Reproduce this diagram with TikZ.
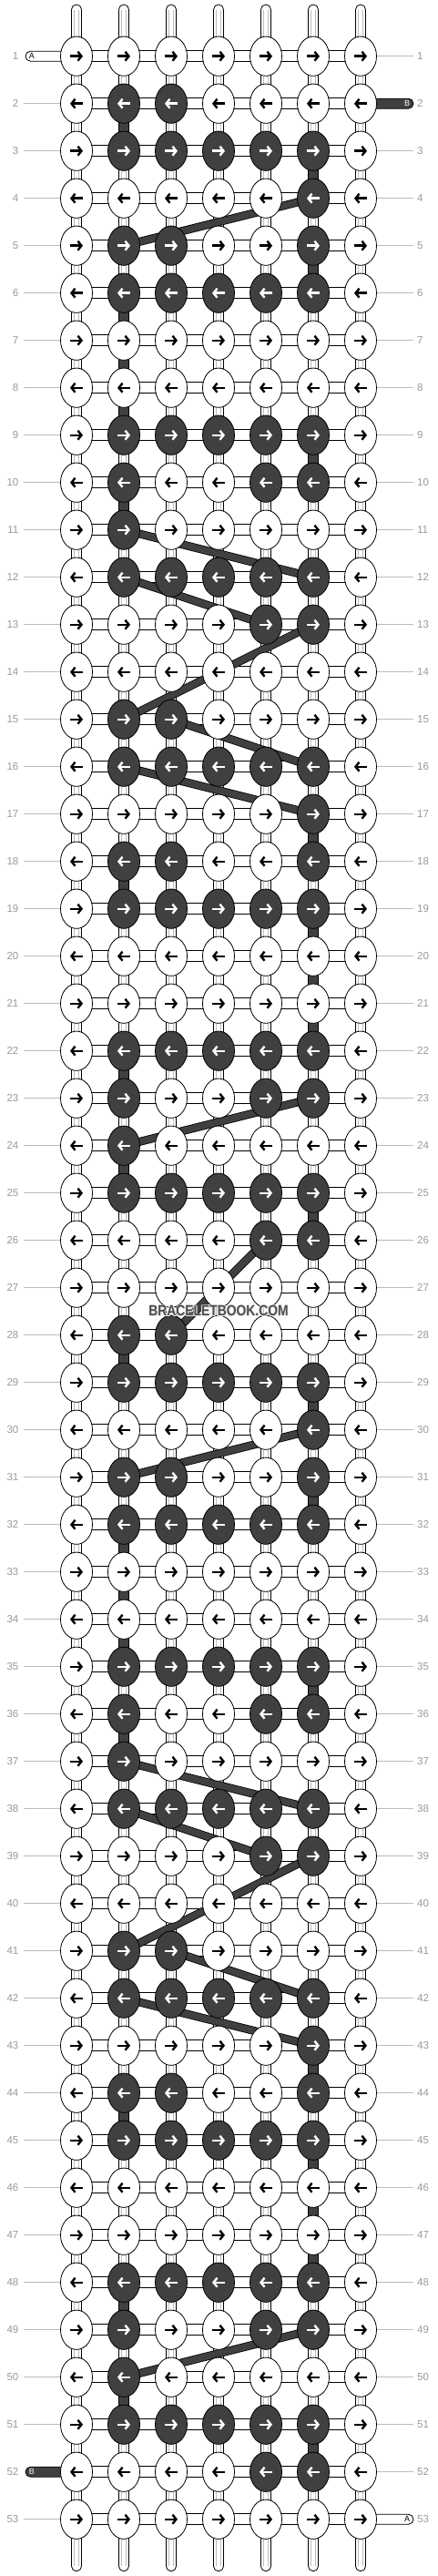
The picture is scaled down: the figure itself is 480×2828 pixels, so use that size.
\documentclass[tikz,border=0pt]{standalone}
\usepackage{fontspec}
\setmainfont{Liberation Sans}
\usetikzlibrary{shapes.geometric,arrows.meta}
\pgfdeclarelayer{bg}
\pgfdeclarelayer{mid}
\pgfsetlayers{bg,mid,main}
\definecolor{dk}{HTML}{404040}
\definecolor{lbl}{HTML}{999999}
\definecolor{rl}{HTML}{BBBBBB}
\definecolor{ig}{HTML}{BDBDBD}
\definecolor{wmc}{HTML}{4D4D4D}
\definecolor{wmh}{HTML}{E8E8E8}
\tikzset{
  acol/.initial=black,
  adir/.initial=1,
  knot/.style={ellipse, draw=black, line width=0.8pt, fill=white,
    minimum width=35pt, minimum height=43.3pt, inner sep=0pt,
    path picture={\draw[line width=2.4pt, draw=\pgfkeysvalueof{/tikz/acol},
       -{Straight Barb[length=4pt,width=10pt]}]
       ([xshift=-7pt*(\pgfkeysvalueof{/tikz/adir})]path picture bounding box.center)
       -- ([xshift=7pt*(\pgfkeysvalueof{/tikz/adir})]path picture bounding box.center);}},
  dknot/.style={fill=dk, acol=white},
  goR/.style={adir=1},
  goL/.style={adir=-1},
  kA2/.style={dknot}, kA3/.style={dknot},
  kF2/.style={dknot}, kF3/.style={dknot}, kF4/.style={dknot}, kF5/.style={dknot}, kF6/.style={dknot},
  kS6/.style={dknot},
  kB2/.style={dknot}, kB3/.style={dknot}, kB6/.style={dknot},
  kC2/.style={dknot}, kC5/.style={dknot}, kC6/.style={dknot},
  kT2/.style={dknot},
  kE5/.style={dknot}, kE6/.style={dknot},
  hconn/.style={draw=black, fill=white, line width=0.8pt},
  vconn/.style={draw=black, fill=white, line width=0.8pt},
  igl/.style={draw=ig, line width=0.6pt},
  vdk/.style={draw=black, fill=dk, line width=0.8pt},
  tube/.style={draw=black, fill=white, line width=0.8pt, rounded corners=5.5pt},
  dtube/.style={tube, fill=dk},
  diag/.style={draw=black, line width=0.8pt, double=dk, double distance=7.4pt},
  lbltext/.style={inner sep=0pt, text=lbl, font=\fontsize{11.5}{12}\selectfont},
  rowline/.style={draw=rl, line width=0.8pt},
  tubelbl/.style={inner sep=0pt, font=\fontsize{9}{10}\selectfont},
  wmark/.style={inner sep=0pt, font=\fontsize{16.3}{18}\selectfont\bfseries},
}
\newcommand{\wmtext}{\scalebox{0.85}[1]{BRACELETBOOK.COM}}
\begin{document}
\begin{tikzpicture}[x=1pt,y=-1pt]
\useasboundingbox (0,0) rectangle (480,2828);
% knots
\foreach \ty [count=\row] in {N,A,F,S,B,F,N,N,F,C,T,F,E,N,A,F,S,B,F,N,N,F,C,T,F,E,
                              N,A,F,S,B,F,N,N,F,C,T,F,E,N,A,F,S,B,F,N,N,F,C,T,F,E,N} {
  \ifodd\row \tikzset{rd/.style={goR}}\else\tikzset{rd/.style={goL}}\fi
  \foreach \col in {1,...,7} {
    \node[knot, rd, k\ty\col/.try] (k-\row-\col) at ({84+52*(\col-1)}, {61.7+52*(\row-1)}) {};
  }
}
\begin{pgfonlayer}{bg}
% strands at the ends
\foreach \col in {1,...,7} {
  \draw[tube] ([xshift=-5.5pt,yshift=56.7pt]k-1-\col.center) rectangle ([xshift=5.5pt]k-1-\col.center);
  \draw[igl] ([xshift=-2.3pt,yshift=51pt]k-1-\col.center) -- ([xshift=-2.3pt]k-1-\col.center);
  \draw[igl] ([xshift=2.3pt,yshift=51pt]k-1-\col.center) -- ([xshift=2.3pt]k-1-\col.center);
  \draw[tube] ([xshift=-5.5pt]k-53-\col.center) rectangle ([xshift=5.5pt,yshift=-57pt]k-53-\col.center);
  \draw[igl] ([xshift=-2.3pt,yshift=-51pt]k-53-\col.center) -- ([xshift=-2.3pt]k-53-\col.center);
  \draw[igl] ([xshift=2.3pt,yshift=-51pt]k-53-\col.center) -- ([xshift=2.3pt]k-53-\col.center);
}
% horizontal connectors
\foreach \row in {1,...,53} {
  \foreach \col [evaluate=\col as \cn using int(\col+1)] in {1,...,6} {
    \draw[hconn] ([yshift=-6pt]k-\row-\col.center) rectangle ([yshift=6pt]k-\row-\cn.center);
  }
}
% vertical connectors
\foreach \row [evaluate=\row as \rn using int(\row+1)] in {1,...,52} {
  \foreach \col in {1,...,7} {
    \draw[vconn] ([xshift=-5.5pt]k-\row-\col.center) rectangle ([xshift=5.5pt]k-\rn-\col.center);
    \draw[igl] ([xshift=-2.3pt]k-\row-\col.center) -- ([xshift=-2.3pt]k-\rn-\col.center);
    \draw[igl] ([xshift=2.3pt]k-\row-\col.center) -- ([xshift=2.3pt]k-\rn-\col.center);
  }
}
\foreach \m/\col in {2/2,3/6,5/6,6/2,7/2,8/2,9/6,10/2,17/6,18/2,19/6,20/6,21/6,22/2,24/2,25/6} {
  \foreach \o in {0,26} {
    \pgfmathtruncatemacro\rA{\m+\o}
    \pgfmathtruncatemacro\rB{\m+\o+1}
    \draw[vdk] ([xshift=-5.5pt]k-\rA-\col.center) rectangle ([xshift=5.5pt]k-\rB-\col.center);
  }
}
% row labels and lines
\foreach \row in {1,...,53} {
  \node[lbltext, anchor=east] (ll-\row) at (20.5, {61.7+52*(\row-1)}) {\row};
  \node[lbltext, anchor=west] (lr-\row) at (458, {61.7+52*(\row-1)}) {\row};
  \ifnum\row=1 \else\ifnum\row=52 \else
    \draw[rowline] ([xshift=5.5pt]ll-\row.east) -- (k-\row-1.west);
  \fi\fi
  \ifnum\row=2 \else\ifnum\row=53 \else
    \draw[rowline] (k-\row-7.east) -- ([xshift=-4.5pt]lr-\row.west);
  \fi\fi
}
% start / end threads
\draw[tube] ([xshift=-56pt,yshift=5.5pt]k-1-1.center) rectangle ([yshift=-5.5pt]k-1-1.center);
\draw[dtube] ([yshift=5.5pt]k-2-7.center) rectangle ([xshift=58pt,yshift=-5.5pt]k-2-7.center);
\draw[dtube] ([xshift=-56pt,yshift=5.5pt]k-52-1.center) rectangle ([yshift=-5.5pt]k-52-1.center);
\draw[tube] ([yshift=5.5pt]k-53-7.center) rectangle ([xshift=58pt,yshift=-5.5pt]k-53-7.center);
\end{pgfonlayer}
\node[tubelbl, text=black] (tA1) at ([xshift=-49pt]k-1-1.center) {A};
\node[tubelbl, text=white] (tB2) at ([xshift=51pt]k-2-7.center) {B};
\node[tubelbl, text=white] (tB52) at ([xshift=-49pt]k-52-1.center) {B};
\node[tubelbl, text=black] (tA53) at ([xshift=51pt]k-53-7.center) {A};
% diagonal carried threads
\begin{pgfonlayer}{mid}
\foreach \rA/\cA/\rB/\cB in {4/6/5/2, 11/2/12/6, 12/2/13/5, 13/6/15/2, 15/3/16/6, 16/2/17/6, 23/6/24/2} {
  \foreach \o in {0,26} {
    \pgfmathtruncatemacro\ra{\rA+\o}
    \pgfmathtruncatemacro\rb{\rB+\o}
    \draw[diag] (k-\ra-\cA.center) -- (k-\rb-\cB.center);
  }
}
\draw[diag] (k-26-5.center) -- (k-28-3.center);
\end{pgfonlayer}
% watermark with a light halo
\foreach \ang [count=\i] in {0,45,...,315} {
  \node[wmark, text=wmh] (wmh-\i) at ({240+0.9*cos(\ang)},{1439.3+0.9*sin(\ang)}) {\wmtext};
}
\node[wmark, text=wmc] (wm) at (240,1439.3) {\wmtext};
\end{tikzpicture}
\end{document}
